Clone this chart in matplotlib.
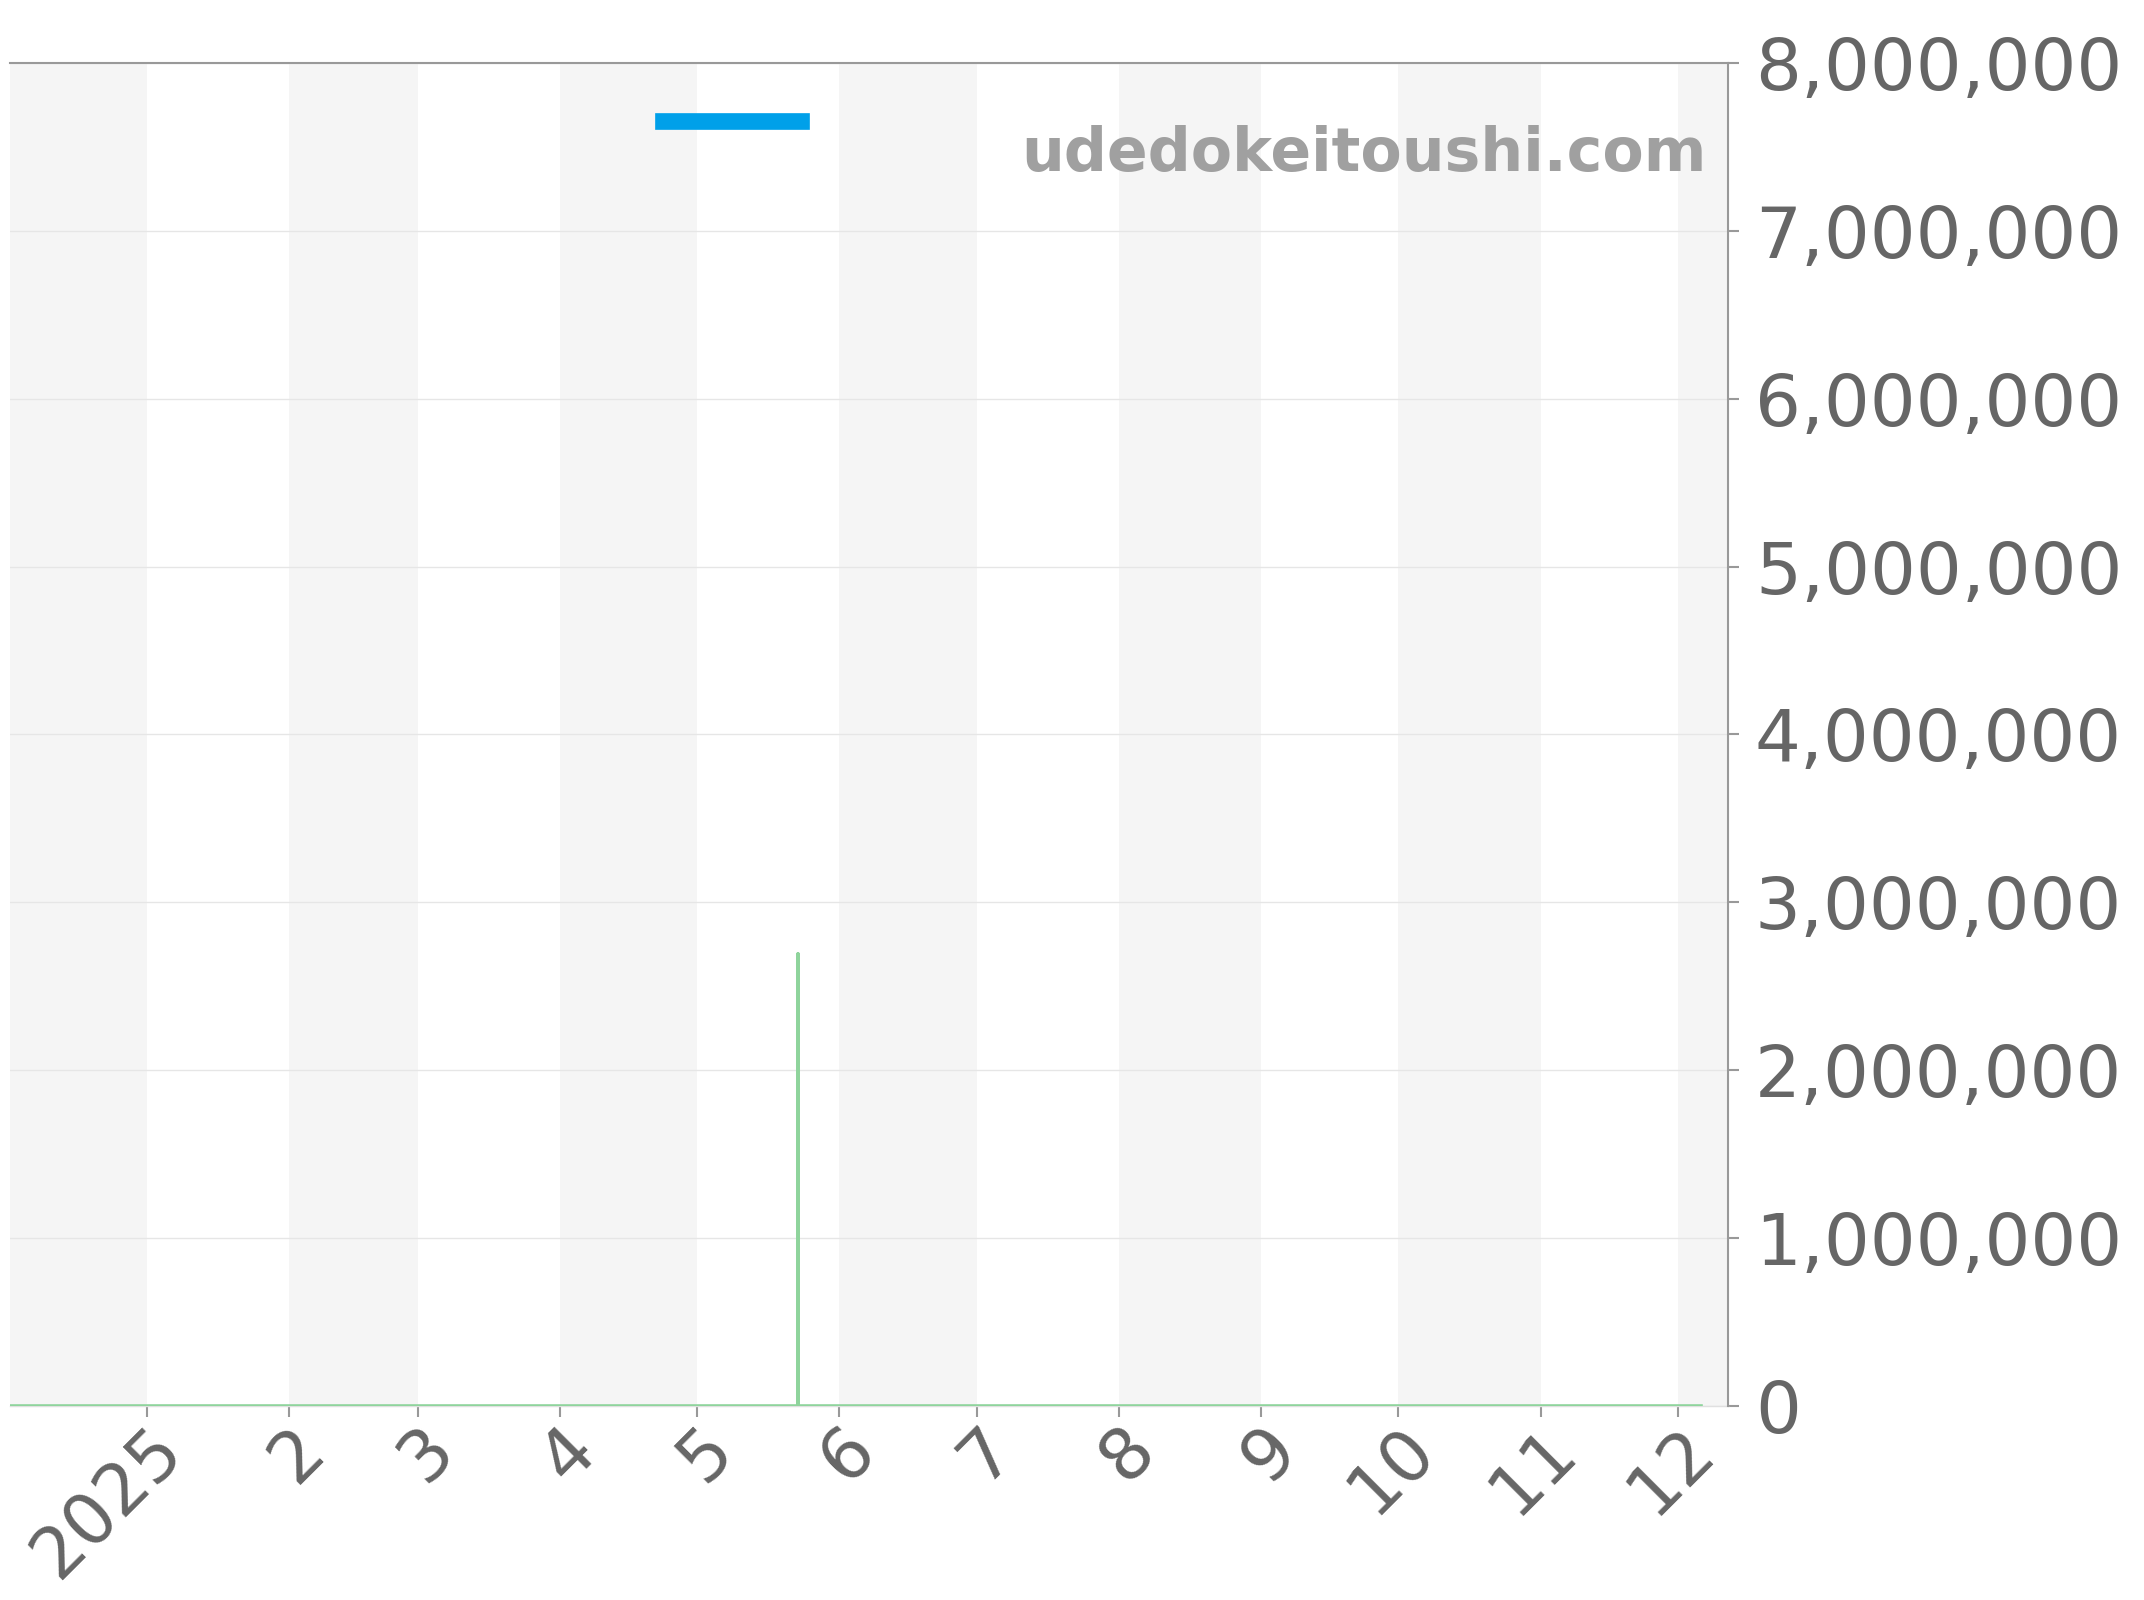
import pandas as pd
import matplotlib
matplotlib.use('Agg')
import matplotlib.pyplot as plt
import matplotlib.dates as mdates
from matplotlib.ticker import FuncFormatter, MultipleLocator
from matplotlib.transforms import ScaledTranslation

plt.rcParams['font.family'] = ['DejaVu Sans']

# price series (green) - flat at 0 with one spike
DATES = ['2024-12-02', '2025-05-23', '2025-05-23', '2025-05-23', '2025-12-06']
PRICES = [0, 0, 2690000, 0, 0]
XMIN = '2024-12-02'
XMAX = '2025-12-12'
YMAX = 8000000

GREEN = '#8fd49c'
BLUE = '#00a0e9'
BAND = '#f5f5f5'
TEXTC = '#666666'
SPINE = '#999999'

fig = plt.figure(figsize=(21.44, 16), dpi=100)
ax = fig.add_axes([0.0045, 0.1214, 0.8017, 0.8392])

x = pd.to_datetime(DATES)
ax.plot(x, PRICES, color=GREEN, linewidth=2.6, zorder=3)
ax.plot([], [], color=BLUE, linewidth=12, label=' ')

ax.set_xlim(pd.Timestamp(XMIN), pd.Timestamp(XMAX))
ax.set_ylim(0, YMAX)

# alternating month bands
months = pd.date_range('2024-12-01', '2026-01-01', freq='MS')
for i in range(0, len(months) - 1, 2):
    ax.axvspan(months[i], months[i + 1], color=BAND, lw=0, zorder=0)

ax.yaxis.set_major_locator(MultipleLocator(1000000))
ax.yaxis.set_major_formatter(FuncFormatter(lambda v, p: '{:,.0f}'.format(v)))
ax.yaxis.tick_right()
ax.grid(axis='y', color='#e6e6e6', linewidth=1, zorder=1)
ax.set_axisbelow(True)

ax.xaxis.set_major_locator(mdates.MonthLocator())
ax.xaxis.set_major_formatter(FuncFormatter(
    lambda v, p: str(mdates.num2date(v).year) if mdates.num2date(v).month == 1 else str(mdates.num2date(v).month)))

ax.tick_params(axis='y', colors=SPINE, labelcolor=TEXTC, labelsize=52, length=8, width=1.5, pad=11)
ax.tick_params(axis='x', colors=SPINE, labelcolor=TEXTC, labelsize=51, length=8, width=1.5, pad=16)
shift = ScaledTranslation(0.25, 0, fig.dpi_scale_trans)
for lab in ax.get_xticklabels():
    lab.set_rotation(45)
    lab.set_ha('right')
    lab.set_va('center')
    lab.set_rotation_mode('anchor')
    lab.set_transform(lab.get_transform() + shift)

ax.spines['left'].set_visible(False)
ax.spines['top'].set_color(SPINE)
ax.spines['top'].set_linewidth(1.5)
ax.spines['right'].set_color(SPINE)
ax.spines['right'].set_linewidth(1.5)
ax.spines['bottom'].set_color('#e0e0e0')
ax.spines['bottom'].set_linewidth(1)
ax.spines['bottom'].set_zorder(2)

fig.legend(loc='center', bbox_to_anchor=(0.3435, 0.923), frameon=False,
           handlelength=4.95, fontsize=20, handletextpad=0)

fig.text(0.7958, 0.9034, 'udedokeitoushi.com', ha='right', va='center',
         fontsize=43.3, fontweight='bold', color='#a0a0a0')

fig.savefig('out.png', dpi=100)
